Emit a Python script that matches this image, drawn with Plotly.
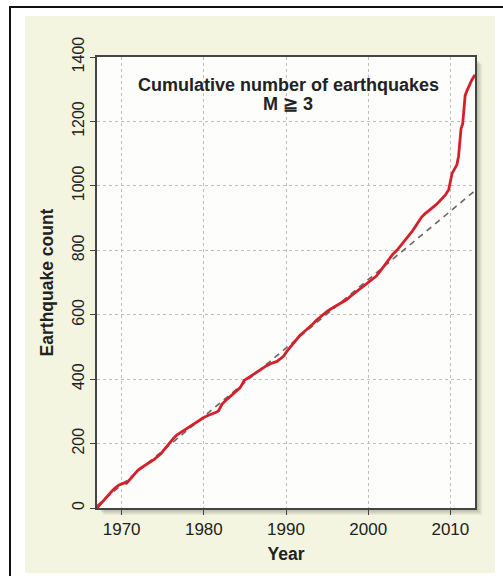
import plotly.graph_objects as go

# Cumulative count of M>=3 earthquakes by year
years = [
    1967.0, 1967.3, 1967.6, 1968.0, 1968.4, 1968.8, 1969.2, 1969.6, 1970.0, 1970.3,
    1970.6, 1970.9, 1971.3, 1971.6, 1972.0, 1972.4, 1972.8, 1973.2, 1973.6, 1974.0,
    1974.4, 1974.8, 1975.1, 1975.5, 1975.9, 1976.3, 1976.7, 1977.1, 1977.5, 1978.0,
    1978.5, 1979.0, 1979.5, 1980.0, 1980.5, 1981.0, 1981.5, 1981.8, 1982.0, 1982.2,
    1982.6, 1983.0, 1983.6, 1984.0, 1984.4, 1984.7, 1984.9, 1985.2, 1985.6, 1986.0,
    1986.6, 1987.1, 1987.6, 1988.1, 1988.5, 1988.9, 1989.3, 1989.7, 1990.1, 1990.5,
    1990.9, 1991.3, 1991.7, 1992.1, 1992.5, 1992.9, 1993.3, 1993.7, 1994.2, 1994.6,
    1995.0, 1995.4, 1995.8, 1996.2, 1996.6, 1997.0, 1997.4, 1997.8, 1998.2, 1998.6,
    1999.0, 1999.4, 1999.8, 2000.2, 2000.6, 2001.0, 2001.4, 2001.8, 2002.2, 2002.6,
    2003.0, 2003.5, 2004.0, 2004.5, 2004.9, 2005.3, 2005.7, 2006.1, 2006.5, 2006.9,
    2007.3, 2007.8, 2008.2, 2008.6, 2009.0, 2009.4, 2009.8, 2010.0, 2010.2, 2010.5,
    2010.8, 2011.0, 2011.1, 2011.2, 2011.3, 2011.5, 2011.6, 2011.7, 2011.8, 2012.0,
    2012.2, 2012.6, 2013.0,
]
counts = [
    0, 9, 19, 31, 42, 52, 62, 70, 75, 78,
    77, 86, 99, 109, 118, 125, 131, 137, 145, 152,
    161, 169, 179, 192, 205, 216, 226, 233, 240, 248,
    257, 265, 273, 281, 287, 291, 297, 302, 312, 322,
    332, 341, 355, 364, 373, 386, 396, 401, 408, 415,
    426, 435, 441, 448, 451, 455, 463, 471, 486, 499,
    512, 524, 536, 545, 553, 562, 572, 583, 594, 602,
    610, 617, 623, 630, 636, 641, 647, 656, 664, 672,
    679, 686, 694, 702, 710, 720, 733, 747, 762, 776,
    788, 800, 815, 831, 842, 857, 872, 888, 903, 913,
    921, 930, 940, 950, 960, 972, 988, 1010, 1038, 1052,
    1066, 1092, 1118, 1150, 1178, 1192, 1226, 1260, 1280, 1294,
    1306, 1328, 1345,
]

# Long-term linear trend
trend_years = [1967, 2013]
trend_counts = [8, 985]

x_ticks = [1970, 1980, 1990, 2000, 2010]
y_ticks = [0, 200, 400, 600, 800, 1000, 1200, 1400]

FONT = "Liberation Sans, Arial, Helvetica, sans-serif"
W, H = 503, 576
L, R, T, B = 97, 475, 57, 508  # plot area in pixels


def px(x):
    return (x - L) / (R - L)


def py(y):
    return (B - y) / (B - T)


fig = go.Figure()
fig.add_trace(go.Scatter(
    x=trend_years, y=trend_counts, mode="lines",
    line=dict(color="#666666", width=1.6, dash="6px,5px"),
    hoverinfo="skip", showlegend=False,
))
fig.add_trace(go.Scatter(
    x=years, y=counts, mode="lines",
    line=dict(color="#d4202a", width=2.8),
    showlegend=False,
))

shapes = []
# beige panel
shapes.append(dict(type="rect", xref="paper", yref="paper",
                   x0=px(25), x1=px(495), y0=py(573), y1=py(16),
                   fillcolor="#f3f5e1", line=dict(width=0), layer="below"))
# drop shadow of the plotting panel
for k in range(1, 8):
    shapes.append(dict(type="rect", xref="paper", yref="paper",
                       x0=px(L + k), x1=px(R + k), y0=py(B + k), y1=py(T + k),
                       fillcolor="rgba(80,85,60,0.07)", line=dict(width=0),
                       layer="below"))
# plotting panel
shapes.append(dict(type="rect", xref="paper", yref="paper",
                   x0=0, x1=1, y0=0, y1=1,
                   fillcolor="#fdfdfb", line=dict(width=0), layer="below"))
# outer frame lines
shapes.append(dict(type="line", xref="paper", yref="paper",
                   x0=px(9), x1=px(510), y0=py(7), y1=py(7),
                   line=dict(color="#111111", width=2)))
shapes.append(dict(type="line", xref="paper", yref="paper",
                   x0=px(10), x1=px(10), y0=py(6), y1=py(590),
                   line=dict(color="#111111", width=2)))

fig.update_layout(
    width=W, height=H,
    margin=dict(l=L, r=W - R, t=T, b=H - B, pad=0),
    paper_bgcolor="white",
    plot_bgcolor="rgba(0,0,0,0)",
    font=dict(family=FONT, color="#222222"),
    shapes=shapes,
    annotations=[
        dict(text="<b>Cumulative number of earthquakes</b>", xref="paper", yref="paper",
             x=px(288), y=py(85), showarrow=False, xanchor="center", yanchor="middle",
             font=dict(size=18, family=FONT, color="#222222")),
        dict(text="<b>M ≧ 3</b>", xref="paper", yref="paper",
             x=px(288), y=py(104), showarrow=False, xanchor="center", yanchor="middle",
             font=dict(size=18, family=FONT, color="#222222")),
    ],
)

fig.update_xaxes(
    range=[1967, 2013], tickvals=x_ticks, ticktext=[str(v) for v in x_ticks],
    showgrid=True, gridcolor="#bdbdbd", gridwidth=1, griddash="dot",
    zeroline=False, showline=True, linecolor="#444444", linewidth=1.5, mirror=True,
    ticks="outside", ticklen=5, tickcolor="#444444", tickwidth=1,
    tickfont=dict(size=17, family=FONT, color="#222222"),
    title=dict(text="<b>Year</b>", font=dict(size=17.5, family=FONT, color="#222222"),
               standoff=10),
)
fig.update_yaxes(
    range=[0, 1400], tickvals=y_ticks, ticktext=[str(v) for v in y_ticks],
    showgrid=True, gridcolor="#bdbdbd", gridwidth=1, griddash="dot",
    zeroline=False, showline=True, linecolor="#444444", linewidth=1.5, mirror=True,
    ticks="outside", ticklen=5, tickcolor="#444444", tickwidth=1, tickangle=-90,
    tickfont=dict(size=16, family=FONT, color="#222222"),
    title=dict(text="<b>Earthquake count</b>", font=dict(size=17.5, family=FONT, color="#222222"),
               standoff=12),
)

fig.write_html("out.html")
